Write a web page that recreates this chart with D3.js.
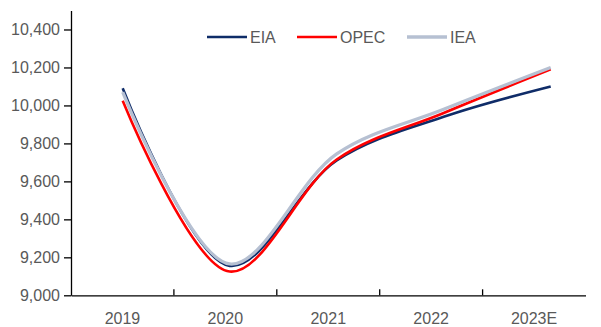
<!DOCTYPE html>
<html>
<head>
<meta charset="utf-8">
<script src="https://cdn.jsdelivr.net/npm/d3@7"></script>
<style>
  body { margin: 0; background: #fff; }
  text { font-family: "Liberation Sans", Arial, sans-serif; }
</style>
</head>
<body>
<div id="chart"></div>
<script>
  var years = ['2019', '2020', '2021', '2022', '2023E'];
  var eia = [10090, 9155, 9710, 9940, 10100];
  var opec = [10025, 9125, 9715, 9960, 10190];
  var iea = [10070, 9165, 9745, 9980, 10200];
  var yTicks = [9000, 9200, 9400, 9600, 9800, 10000, 10200, 10400];

  var series = [
    {name: 'EIA', values: eia, color: '#0f2c68', width: 2.6},
    {name: 'OPEC', values: opec, color: '#ff0000', width: 2.6},
    {name: 'IEA', values: iea, color: '#b6c0d2', width: 3.3}
  ];

  var W = 601, H = 327,
    margin = {top: 10.5, right: 15.5, bottom: 31.7, left: 71},
    width = W - margin.left - margin.right,
    height = H - margin.top - margin.bottom;

  var svg = d3.select('#chart').append('svg')
    .attr('width', W)
    .attr('height', H);

  var g = svg.append('g')
    .attr('transform', 'translate(' + margin.left + ',' + margin.top + ')');

  var x = d3.scaleBand().domain(years).range([0, width]);
  // the smoothed lines run a bit wider than the category centres
  var xLine = d3.scalePoint().domain(years).range([51.7, 479.7]);
  var y = d3.scaleLinear().domain([9000, 10500]).range([height, 0]);

  // y axis
  var yAxis = g.append('g')
    .call(d3.axisLeft(y).tickValues(yTicks).tickSize(7).tickSizeOuter(0)
      .tickFormat(d3.format(',')));
  yAxis.select('.domain').attr('stroke', '#000').attr('stroke-width', 1.3);
  yAxis.selectAll('.tick line').attr('stroke', '#000').attr('stroke-width', 1.3);
  yAxis.selectAll('.tick text')
    .attr('x', -11)
    .attr('fill', '#595959')
    .style('font-size', '16px');

  // x axis, ticks between categories pointing inward
  var xAxis = g.append('g')
    .attr('transform', 'translate(0,' + height + ')')
    .call(d3.axisBottom(x).tickSize(0).tickSizeOuter(0));
  xAxis.select('.domain').attr('stroke', '#000').attr('stroke-width', 1.3);
  xAxis.selectAll('.tick text')
    .attr('y', 17)
    .attr('dy', '0.71em')
    .attr('fill', '#595959')
    .style('font-size', '16px');
  xAxis.selectAll('.sep')
    .data(years.slice(1))
    .enter().append('line')
    .attr('class', 'sep')
    .attr('x1', function(d) { return x(d); })
    .attr('x2', function(d) { return x(d); })
    .attr('y1', 0)
    .attr('y2', -6)
    .attr('stroke', '#000')
    .attr('stroke-width', 1.3);

  var line = d3.line()
    .x(function(d, i) { return xLine(years[i]); })
    .y(function(d) { return y(d); })
    .curve(d3.curveCatmullRom.alpha(0.5));

  g.selectAll('path.series')
    .data(series)
    .enter().append('path')
    .attr('class', 'series')
    .attr('d', function(d) { return line(d.values); })
    .attr('fill', 'none')
    .attr('stroke', function(d) { return d.color; })
    .attr('stroke-width', function(d) { return d.width; });

  // legend
  var legendX = [207, 297, 407];
  var legend = svg.selectAll('g.legend')
    .data(series)
    .enter().append('g')
    .attr('class', 'legend')
    .attr('transform', function(d, i) { return 'translate(' + legendX[i] + ',37)'; });

  legend.append('line')
    .attr('x1', 0).attr('x2', 40)
    .attr('stroke', function(d) { return d.color; })
    .attr('stroke-width', function(d) { return d.width; });

  legend.append('text')
    .attr('x', 43)
    .attr('dy', '0.36em')
    .attr('fill', '#595959')
    .style('font-size', '16px')
    .text(function(d) { return d.name; });
</script>
</body>
</html>
